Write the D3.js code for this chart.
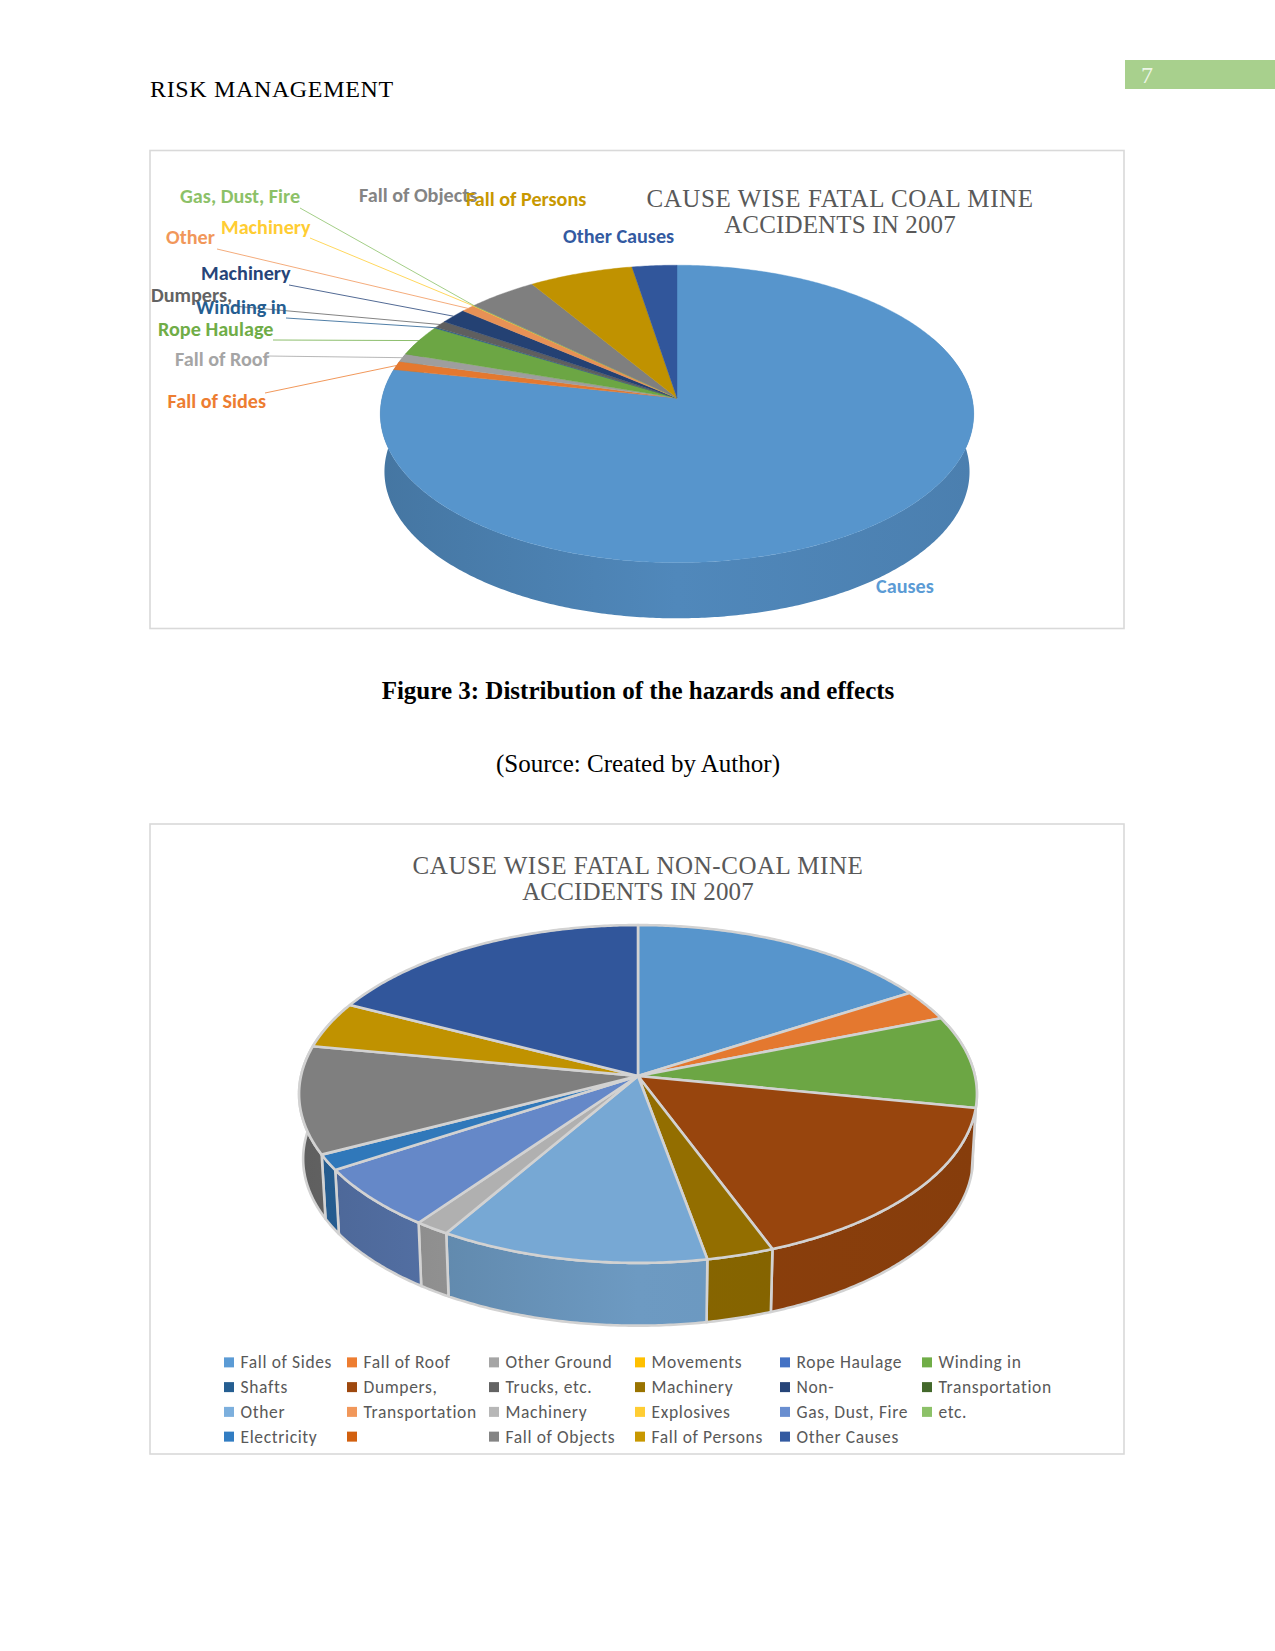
<!DOCTYPE html>
<html><head><meta charset="utf-8">
<script src="https://cdn.jsdelivr.net/npm/d3@7"></script>
<style>html,body{margin:0;padding:0;background:#fff}svg{display:block}</style>
</head><body><svg id="c" width="1275" height="1651"></svg>
<script>
// ---- data: chart 1 (coal)
const coalCategories = ["Causes","Fall of Sides","Fall of Roof","Rope Haulage","Winding in","Dumpers,","Machinery","Other","Machinery","Gas, Dust, Fire","Fall of Objects","Fall of Persons","Other Causes"];
const coalValues = [78.2,0.95,0.9,3.35,0.1,0.8,1.65,0.8,0.05,0.05,4.2,6.3,2.7];
const coalColors = ["#5b9bd5","#ed7d31","#a5a5a5","#70ad47","#255e91","#636363","#264478","#f1975a","#ffcd33","#8cc168","#848484","#c89800","#335aa1"];
// ---- data: chart 2 (non-coal), in legend order
const nonCoalCategories = ["Fall of Sides","Fall of Roof","Other Ground","Movements","Rope Haulage","Winding in","Shafts","Dumpers,","Trucks, etc.","Machinery","Non-","Transportation","Other","Transportation","Machinery","Explosives","Gas, Dust, Fire","etc.","Electricity","","Fall of Objects","Fall of Persons","Other Causes"];
const nonCoalValues = [16.2,2.95,0,0,0,8.85,0,16.15,0,2.9,0,0,11.6,0,1.5,0,5.95,0,1.5,0,10.3,4.45,17.65];
const nonCoalColors = ["#5b9bd5","#ed7d31","#a5a5a5","#ffc000","#4472c4","#70ad47","#255e91","#9e480e","#636363","#997300","#264478","#43682b","#7cafdd","#f1975a","#b7b7b7","#ffcd33","#698ed0","#8cc168","#327dc2","#d2600f","#848484","#c89800","#335aa1"];
const legendRows = 4, legendCols = 6;

const svg = d3.select("#c");
const SERIF = "'Liberation Serif',serif", SANS = "Carlito,Lato,sans-serif";
const defs = svg.append("defs");
let gid = 0;

function text(x,y,s,o={}){
  return svg.append("text").attr("x",x).attr("y",y).text(s)
    .attr("font-family",o.f||SERIF).attr("font-size",o.s||16).attr("fill",o.c||"#000")
    .attr("font-weight",o.w||400).attr("text-anchor",o.a||"start")
    .attr("letter-spacing",o.ls||null);
}
function frame(x,y,w,h){ svg.append("rect").attr("x",x).attr("y",y).attr("width",w).attr("height",h).attr("fill","#fff").attr("stroke","#d9d9d9").attr("stroke-width",1.6); }

// page furniture
svg.append("rect").attr("x",1125).attr("y",60).attr("width",150).attr("height",29).attr("fill","#a8d08d");
text(1141,83,"7",{s:24,c:"#eef6e8"});
text(150,97,"RISK MANAGEMENT",{s:24,ls:.65});
text(638,698.5,"Figure 3: Distribution of the hazards and effects",{s:25,w:700,a:"middle"});
text(638,772,"(Source: Created by Author)",{s:25,a:"middle"});
frame(150,150.5,974,478);
frame(150,824,974,630);

// perspective pie: a circle seen at an angle, apex off-centre
function projector(g){
  return function(theta,bottom){
    const X=Math.sin(theta), Yn=-Math.cos(theta), w=1-g.k*Yn, sc=bottom?g.taper:1;
    return [g.ax+g.A*sc*X/w, g.ay+(bottom?g.depth:0)+g.B*sc*Yn/w];
  };
}
function arcSamples(a0,a1){ const n=Math.max(2,Math.ceil((a1-a0)/0.01)); return d3.range(n+1).map(i=>a0+(a1-a0)*i/n); }

function drawPie(g,values,colors){
  const P=projector(g);
  const arcs=d3.pie().sort(null).value(d=>d).startAngle(0).endAngle(2*Math.PI)(values)
    .map((a,i)=>({a0:a.startAngle,a1:a.endAngle,color:colors[i],i})).filter(d=>d.a1>d.a0);
  const line=d3.line();
  const lo=Math.PI*0.36, hi=Math.PI*1.64;
  const layer=svg.append("g");
  // walls
  arcs.forEach(d=>{
    const a0=Math.max(d.a0,lo), a1=Math.min(d.a1,hi); if(a1<=a0) return;
    const th=arcSamples(a0,a1);
    const id="w"+(gid++);
    const c=d3.color(d.color), dk=f=>d3.rgb(c.r*f,c.g*f,c.b*f).formatHex();
    const gr=defs.append("linearGradient").attr("id",id).attr("gradientUnits","userSpaceOnUse")
      .attr("x1",g.ax-g.A).attr("x2",g.ax+g.A).attr("y1",0).attr("y2",0);
    [[0,g.wall[0]],[.5,g.wall[1]],[1,g.wall[2]]].forEach(s=>gr.append("stop").attr("offset",s[0]).attr("stop-color",dk(s[1])));
    const pts=th.map(t=>P(t,false)).concat(th.slice().reverse().map(t=>P(t,true)));
    layer.append("path").attr("d",line(pts)+"Z").attr("fill",`url(#${id})`)
      .attr("stroke",g.stroke||"none").attr("stroke-width",g.strokeW||0).attr("stroke-linejoin","round");
  });
  // top
  arcs.forEach(d=>{
    const pts=[[g.ax,g.ay]].concat(arcSamples(d.a0,d.a1).map(t=>P(t,false)));
    const c=d3.color(d.color);
    layer.append("path").attr("d",line(pts)+"Z").attr("fill",d3.rgb(c.r*g.top,c.g*g.top,c.b*g.top).formatHex())
      .attr("stroke",g.stroke||d3.rgb(c.r*g.top,c.g*g.top,c.b*g.top).formatHex()).attr("stroke-width",g.strokeW||0.4).attr("stroke-linejoin","round");
  });
  return {arcs,P};
}

// chart 1
const pie1=drawPie({ax:677,ay:398,A:295,B:147,k:0.107,depth:58,taper:0.986,wall:[.76,.88,.82],top:.96},coalValues,coalColors);
text(840,207,"CAUSE WISE FATAL COAL MINE",{s:25,a:"middle",c:"#595959",ls:.6});
text(840,233,"ACCIDENTS IN 2007",{s:25,a:"middle",c:"#595959",ls:.15});
// label placement for chart 1, by category index: [x, baseline, leader start x, leader start y]
const coalLabelPos = [
 [876,593],[167.5,408,265,393],[175,366,267,356],[158,336,273,340],[196,314,286,318],[151,302,233,306],
 [201,280,289,285],[166,244,217,249],[221,234,310,238],[180,203,300,208],[359,202],[466,205.5],[563,242.5]];
coalCategories.forEach((name,i)=>{
  const p=coalLabelPos[i], col=coalColors[i];
  if(p.length>2){
    const a=pie1.arcs.find(d=>d.i===i), end=pie1.P((a.a0+a.a1)/2,false);
    svg.append("line").attr("x1",p[2]).attr("y1",p[3]).attr("x2",end[0]).attr("y2",end[1]).attr("stroke",col).attr("stroke-width",.8);
  }
});
coalCategories.forEach((name,i)=>{
  const p=coalLabelPos[i];
  text(p[0],p[1],name,{f:SANS,s:20.2,w:600,c:coalColors[i]});
});

// chart 2
drawPie({ax:638,ay:1076,A:337,B:167,k:0.1065,depth:65,taper:0.988,wall:[.72,.88,.85],top:.96,stroke:"#d2d2d2",strokeW:2.6},nonCoalValues,nonCoalColors);
text(638,873.5,"CAUSE WISE FATAL NON-COAL MINE",{s:25,a:"middle",c:"#595959",ls:.56});
text(638,899.5,"ACCIDENTS IN 2007",{s:25,a:"middle",c:"#595959",ls:.15});

// legend (filled row by row, as the reference reads)
const legendX=d3.scaleOrdinal().domain(d3.range(legendCols)).range([224,347,489,635,780,922]);
const legendY=d3.scaleBand().domain(d3.range(legendRows)).range([1350,1449]);
nonCoalCategories.forEach((name,i)=>{
  const r=Math.floor(i/legendCols), c=i%legendCols;
  const x=legendX(c), y=legendY(r)+legendY.bandwidth()/2;
  svg.append("rect").attr("x",x).attr("y",y-5).attr("width",10).attr("height",10).attr("fill",nonCoalColors[i]);
  if(name) text(x+16.5,y+6,name,{f:SANS,s:17.5,c:"#595959",ls:.64});
});
</script></body></html>
